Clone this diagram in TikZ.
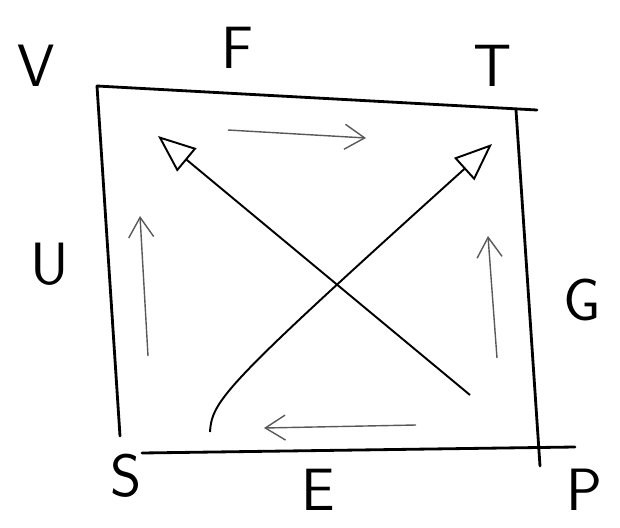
\documentclass[tikz,border=0pt]{standalone}
\usepackage{fontspec}
\usetikzlibrary{arrows.meta}
\tikzset{
  letter/.style={font=\sffamily\fontsize{34}{38}\selectfont, inner sep=0pt},
  edge/.style={line width=1.6pt, line cap=round},
  flow/.style={line width=0.8pt, gray!70!black, -{Straight Barb[length=4mm, width=5mm]}},
  cross/.style={line width=1.1pt, -{Triangle[open, length=7.5mm, width=6mm, line width=1.1pt]}}
}
\begin{document}
\begin{tikzpicture}[x=0.02cm, y=-0.02cm]
	\useasboundingbox (0,0) rectangle (620,528);
	% corners of the square
	\coordinate (vtop) at (97,86);
	\coordinate (ttop) at (537,110);
	\coordinate (gtop) at (516,110);
	\coordinate (gbot) at (540,466);
	\coordinate (ubot) at (120,436);
	\coordinate (sbot) at (142,453);
	\coordinate (pbot) at (575,447);
	\draw[edge] (vtop) -- (ttop);
	\draw[edge] (gtop) -- (gbot);
	\draw[edge] (sbot) -- (pbot);
	\draw[edge] (vtop) -- (ubot);
	% letters round the square
	\node[letter] (V) at (36,66) {V};
	\node[letter] (F) at (237,48) {F};
	\node[letter] (T) at (493,66) {T};
	\node[letter] (U) at (50,264) {U};
	\node[letter] (G) at (582,300) {G};
	\node[letter] (S) at (126,476) {S};
	\node[letter] (E) at (318,490) {E};
	\node[letter] (P) at (584,490) {P};
	% arrows inside
	\coordinate (f1) at (228,130); \coordinate (f2) at (366,138);
	\coordinate (u1) at (148,356); \coordinate (u2) at (140,216);
	\coordinate (g1) at (497,358); \coordinate (g2) at (488,236);
	\coordinate (e1) at (416,425); \coordinate (e2) at (264,428);
	\draw[flow] (f1) -- (f2);
	\draw[flow] (u1) -- (u2);
	\draw[flow] (g1) -- (g2);
	\draw[flow] (e1) -- (e2);
	% the two diagonals
	\coordinate (d1) at (470,395); \coordinate (d2) at (158,136);
	\coordinate (d3) at (210,432); \coordinate (d4) at (492,144);
	\draw[cross] (d1) -- (d2);
	\draw[cross] (d3) .. controls (212,400) and (225,385) .. (d4);
\end{tikzpicture}
\end{document}
